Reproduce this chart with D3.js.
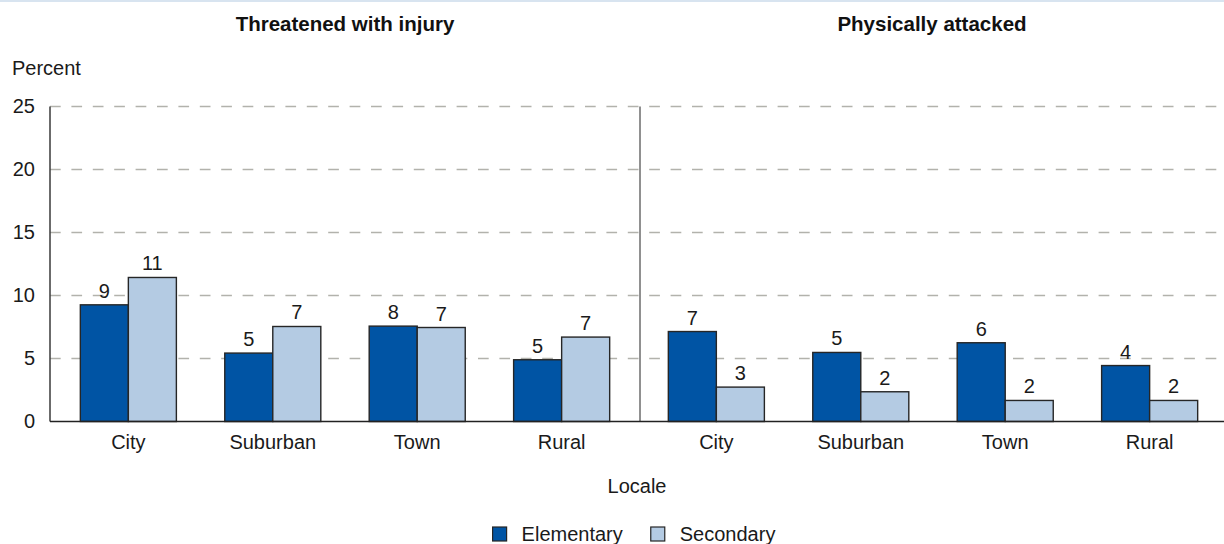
<!DOCTYPE html>
<html>
<head>
<meta charset="utf-8">
<script src="https://cdn.jsdelivr.net/npm/d3@7/dist/d3.min.js"></script>
<style>
  html, body { margin: 0; padding: 0; background: #fff; }
  svg { display: block; font-family: "Liberation Sans", Arial, sans-serif; }
</style>
</head>
<body>
<svg id="chart" width="1224" height="544"></svg>
<script>
const categories = ["City", "Suburban", "Town", "Rural"];
const panelTitles = ["Threatened with injury", "Physically attacked"];
const seriesNames = ["Elementary", "Secondary"];
const yTicks = [0, 5, 10, 15, 20, 25];

const threatenedElementary = [9.26, 5.43, 7.57, 4.9];
const threatenedSecondary = [11.43, 7.54, 7.46, 6.7];
const threatenedElementaryLabels = ["9", "5", "8", "5"];
const threatenedSecondaryLabels = ["11", "7", "7", "7"];

const attackedElementary = [7.14, 5.48, 6.25, 4.44];
const attackedSecondary = [2.73, 2.36, 1.67, 1.67];
const attackedElementaryLabels = ["7", "5", "6", "4"];
const attackedSecondaryLabels = ["3", "2", "2", "2"];

const colors = { Elementary: "#0054a4", Secondary: "#b4cbe3" };

const svg = d3.select("#chart");
const W = 1224, H = 544;
const fontSize = 20;
const titleSize = 20.5;

// top band
svg.append("rect").attr("x", 0).attr("y", 0).attr("width", W).attr("height", 2).attr("fill", "#d8e4f0");

const y = d3.scaleLinear().domain([0, 25]).range([421.5, 106.5]);
const axisX = 50, plotRight = W;

const panels = [
  { title: panelTitles[0], range: [50, 640], elem: threatenedElementary, sec: threatenedSecondary,
    elemL: threatenedElementaryLabels, secL: threatenedSecondaryLabels },
  { title: panelTitles[1], range: [638, 1228], elem: attackedElementary, sec: attackedSecondary,
    elemL: attackedElementaryLabels, secL: attackedSecondaryLabels }
];

// gridlines
svg.append("g").selectAll("line").data(yTicks.filter(d => d > 0)).join("line")
  .attr("x1", axisX).attr("x2", plotRight)
  .attr("y1", d => y(d)).attr("y2", d => y(d))
  .attr("stroke", "#b2b2ac").attr("stroke-width", 1.6)
  .attr("stroke-dasharray", "10.7,10.7");

// y axis labels
const yAxis = d3.axisLeft(y).tickValues(yTicks).tickSize(0).tickPadding(15);
const gy = svg.append("g").attr("transform", `translate(${axisX},0)`).call(yAxis);
gy.select(".domain").remove();
gy.selectAll("text").attr("font-size", fontSize).attr("fill", "#1a1a1a")
  .attr("font-family", "Liberation Sans, Arial, sans-serif");

svg.append("text").attr("x", 12).attr("y", 75).attr("font-size", fontSize)
  .attr("fill", "#1a1a1a").text("Percent");

panels.forEach((p, pi) => {
  const x0 = d3.scaleBand().domain(categories).range(p.range).paddingInner(0.335).paddingOuter(0.21);
  const x1 = d3.scaleBand().domain(seriesNames).range([0, x0.bandwidth()]);
  const g = svg.append("g");

  const rows = [];
  categories.forEach((c, i) => {
    rows.push({ cat: c, s: "Elementary", v: p.elem[i], l: p.elemL[i] });
    rows.push({ cat: c, s: "Secondary", v: p.sec[i], l: p.secL[i] });
  });

  g.selectAll("rect").data(rows).join("rect")
    .attr("x", d => x0(d.cat) + x1(d.s))
    .attr("y", d => y(d.v))
    .attr("width", x1.bandwidth())
    .attr("height", d => y(0) - y(d.v))
    .attr("fill", d => colors[d.s])
    .attr("stroke", "#262626").attr("stroke-width", 1.4);

  g.selectAll("text.val").data(rows).join("text").attr("class", "val")
    .attr("x", d => x0(d.cat) + x1(d.s) + x1.bandwidth() / 2)
    .attr("y", d => y(d.v) - 7)
    .attr("text-anchor", "middle").attr("font-size", fontSize).attr("fill", "#1a1a1a")
    .text(d => d.l);

  const xAxis = d3.axisBottom(x0).tickSize(0).tickPadding(13);
  const gx = svg.append("g").attr("transform", `translate(0,${y(0)})`).call(xAxis);
  gx.select(".domain").remove();
  gx.selectAll("text").attr("font-size", fontSize).attr("fill", "#1a1a1a")
    .attr("font-family", "Liberation Sans, Arial, sans-serif");

  const cx = pi === 0 ? (50 + 640) / 2 : (640 + 1224) / 2;
  svg.append("text").attr("x", cx).attr("y", 31).attr("text-anchor", "middle")
    .attr("font-size", titleSize).attr("font-weight", "bold").attr("fill", "#111")
    .text(p.title);
});

// axis lines
svg.append("line").attr("x1", axisX).attr("x2", axisX).attr("y1", y(25)).attr("y2", y(0))
  .attr("stroke", "#3a3a3a").attr("stroke-width", 1.5);
svg.append("line").attr("x1", 640).attr("x2", 640).attr("y1", y(25)).attr("y2", y(0))
  .attr("stroke", "#222").attr("stroke-width", 1);
svg.append("line").attr("x1", axisX).attr("x2", plotRight).attr("y1", y(0)).attr("y2", y(0))
  .attr("stroke", "#222").attr("stroke-width", 1.5);

svg.append("text").attr("x", 637).attr("y", 493).attr("text-anchor", "middle")
  .attr("font-size", fontSize).attr("fill", "#1a1a1a").text("Locale");

// legend
const legend = svg.append("g");
let lx = 0;
const items = legend.selectAll("g").data(seriesNames).join("g");
items.append("rect").attr("width", 14).attr("height", 14).attr("y", -14)
  .attr("fill", d => colors[d]).attr("stroke", "#262626").attr("stroke-width", 1.2);
items.append("text").attr("x", 29).attr("y", 0).attr("font-size", fontSize).attr("fill", "#1a1a1a").text(d => d);
items.each(function () {
  d3.select(this).attr("transform", `translate(${lx},0)`);
  lx += this.getBBox().width + 28;
});
const totalW = lx - 28;
legend.attr("transform", `translate(${634 - totalW / 2},541)`);
</script>
</body>
</html>
